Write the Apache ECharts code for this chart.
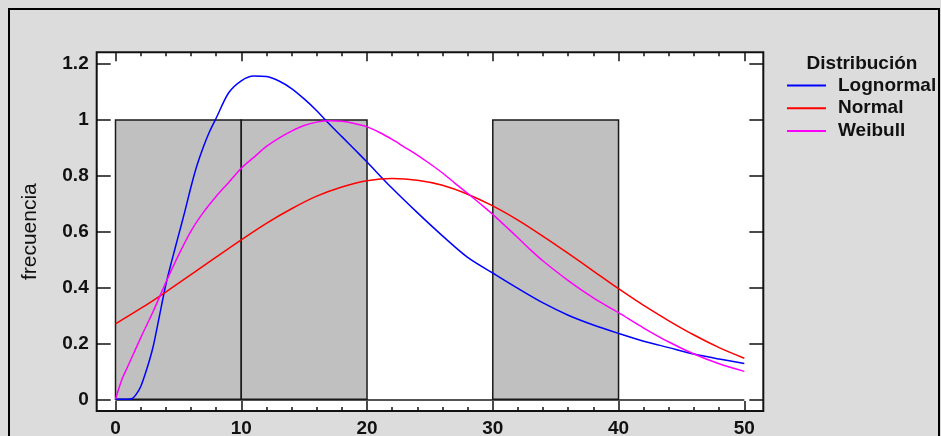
<!DOCTYPE html>
<html>
<head>
<meta charset="utf-8">
<script src="https://cdn.jsdelivr.net/npm/echarts@6/dist/echarts.min.js"></script>
<style>html,body{margin:0;padding:0;background:#dcdcdc;}#c{width:941px;height:436px;}</style>
</head>
<body>
<div id="c"></div>
<script>
// Histogram bins
var binStart = [0, 10, 20, 30, 40];
var binEnd   = [10, 20, 30, 40, 50];
var binFreq  = [1, 1, 0, 1, 0];

// Fitted curves
var logX = [0,1,1.3,1.6,2,2.5,3,3.5,4,4.5,5,5.5,6,6.5,7,7.5,8,9,10,11,12,13,14,15,16,17,18,19,20,22,24,26,28,30,32,34,36,38,40,42,44,46,48,50];
var logY = [0,0,0.002,0.015,0.045,0.11,0.19,0.30,0.41,0.50,0.585,0.67,0.76,0.84,0.905,0.96,1.006,1.097,1.14,1.157,1.155,1.139,1.112,1.075,1.033,0.985,0.94,0.895,0.849,0.755,0.668,0.585,0.508,0.452,0.397,0.345,0.301,0.266,0.236,0.208,0.185,0.162,0.144,0.128];

var normX = [0,2,4,6,8,10,12,14,16,18,20,22,24,26,28,30,32,34,36,38,40,42,44,46,48,50];
var normY = [0.270,0.325,0.384,0.446,0.509,0.571,0.630,0.682,0.727,0.760,0.782,0.790,0.784,0.766,0.734,0.692,0.641,0.583,0.522,0.459,0.396,0.336,0.281,0.230,0.185,0.147];

var weiX = [0,0.5,1,1.5,2,3,4,5,6,7,8,9,10,11,12,13,14,15,16,17,18,19,20,21,22,23,24,25,26,27,28,29,30,31,32,33,34,36,38,40,42,44,46,48,50];
var weiY = [0,0.07,0.12,0.17,0.22,0.315,0.418,0.515,0.602,0.67,0.726,0.776,0.827,0.866,0.905,0.935,0.96,0.98,0.992,0.997,0.995,0.987,0.975,0.955,0.93,0.902,0.874,0.843,0.81,0.773,0.737,0.70,0.662,0.62,0.578,0.535,0.495,0.425,0.363,0.31,0.255,0.205,0.162,0.127,0.100];

var xTicks = [0, 10, 20, 30, 40, 50];
var yTicks = [0, 0.2, 0.4, 0.6, 0.8, 1, 1.2];

var seriesNames = ['Lognormal', 'Normal', 'Weibull'];
var seriesColors = ['#0000ff', '#ff0000', '#ff00ff'];

function zip(a, b) { return a.map(function (v, i) { return [v, b[i]]; }); }

var G = { left: 115.5, right: 196.7, top: 64, bottom: 36.7 };
var OFF = { left: 18.8, right: 19, top: 11.7, bottom: 11.7 };
var W = 941, H = 436;
var fx = G.left - OFF.left, fy = G.top - OFF.top;
var fw = (W - G.right + OFF.right) - fx, fh = (H - G.bottom + OFF.bottom) - fy;

var FONT = '"Liberation Sans", Arial, sans-serif';
var lbl = { color: '#111', fontFamily: FONT, fontWeight: 'bold', fontSize: 19 };
var tickStyle = { color: '#111', width: 1.5 };

var chart = echarts.init(document.getElementById('c'), null, { renderer: 'canvas' });

var barData = binStart.map(function (s, i) { return [s, binEnd[i], binFreq[i]]; });

var lineSeries = [zip(logX, logY), zip(normX, normY), zip(weiX, weiY)].map(function (d, i) {
  return {
    name: seriesNames[i], type: 'line', data: d, showSymbol: false, symbol: 'none',
    smooth: 0.3, z: 5,
    lineStyle: { color: seriesColors[i], width: 1.5 }, itemStyle: { color: seriesColors[i] }
  };
});

chart.setOption({
  backgroundColor: '#dcdcdc',
  animation: false,
  grid: { left: G.left, right: G.right, top: G.top, bottom: G.bottom, containLabel: false, outerBoundsMode: 'none' },
  graphic: [
    { type: 'rect', z: -100, shape: { x: 9, y: 9, width: 930, height: 460 }, style: { fill: '#dcdcdc', stroke: '#000', lineWidth: 2 } },
    { type: 'rect', z: -50, shape: { x: fx, y: fy, width: fw, height: fh }, style: { fill: '#fff', stroke: null } },
    { type: 'rect', z: 100, silent: true, shape: { x: fx, y: fy, width: fw, height: fh }, style: { fill: null, stroke: '#111', lineWidth: 2 } },
    { type: 'text', z: 100, x: 862, y: 64, style: { text: 'Distribución', align: 'center', verticalAlign: 'middle', fill: '#111', font: 'bold 19px ' + FONT } }
  ],
  legend: {
    data: seriesNames, orient: 'vertical', left: 787, top: 74, itemGap: 0, padding: 0,
    itemWidth: 39, itemHeight: 2, icon: 'rect',
    textStyle: { color: '#111', fontFamily: FONT, fontWeight: 'bold', fontSize: 19, lineHeight: 22.8, padding: [0, 0, 0, 7] }
  },
  xAxis: [
    { type: 'value', position: 'bottom', min: xTicks[0], max: xTicks[xTicks.length - 1], interval: 10, offset: OFF.bottom,
      axisLine: { show: false, onZero: false }, splitLine: { show: false },
      axisTick: { show: true, inside: true, length: 10, lineStyle: tickStyle },
      minorTick: { show: true, splitNumber: 5, length: 4, lineStyle: tickStyle },
      axisLabel: Object.assign({ margin: 8 }, lbl) },
    { type: 'value', position: 'top', min: xTicks[0], max: xTicks[xTicks.length - 1], interval: 10, offset: OFF.top,
      axisLine: { show: false, onZero: false }, splitLine: { show: false },
      axisTick: { show: true, inside: true, length: 9, lineStyle: tickStyle },
      minorTick: { show: true, splitNumber: 5, length: 4, lineStyle: tickStyle },
      axisLabel: { show: false } }
  ],
  yAxis: [
    { type: 'value', position: 'left', min: yTicks[0], max: yTicks[yTicks.length - 1], interval: 0.2, offset: OFF.left,
      axisLine: { show: false, onZero: false }, splitLine: { show: false },
      axisTick: { show: true, inside: true, length: 14, lineStyle: tickStyle },
      axisLabel: Object.assign({ margin: 8 }, lbl),
      name: 'frecuencia', nameLocation: 'middle', nameRotate: 90, nameGap: 56,
      nameTextStyle: { color: '#111', fontFamily: FONT, fontSize: 21 } },
    { type: 'value', position: 'right', min: yTicks[0], max: yTicks[yTicks.length - 1], interval: 0.2, offset: OFF.right,
      axisLine: { show: false, onZero: false }, splitLine: { show: false },
      axisTick: { show: true, inside: true, length: 14, lineStyle: tickStyle },
      axisLabel: { show: false } }
  ],
  series: [
    {
      type: 'custom', name: 'hist', z: 2, xAxisIndex: 0, yAxisIndex: 0,
      data: barData,
      encode: { x: [0, 1], y: 2 },
      renderItem: function (params, api) {
        var f = api.value(2);
        if (!f) return null;
        var p0 = api.coord([api.value(0), f]);
        var p1 = api.coord([api.value(1), 0]);
        return { type: 'rect', shape: { x: p0[0], y: p0[1], width: p1[0] - p0[0], height: p1[1] - p0[1] },
          style: { fill: '#c0c0c0', stroke: '#1a1a1a', lineWidth: 1.5 } };
      },
      markLine: { silent: true, symbol: 'none', label: { show: false }, lineStyle: { color: '#1a1a1a', width: 1.5, type: 'solid' }, data: [{ yAxis: 0 }] }
    }
  ].concat(lineSeries)
});
</script>
</body>
</html>
